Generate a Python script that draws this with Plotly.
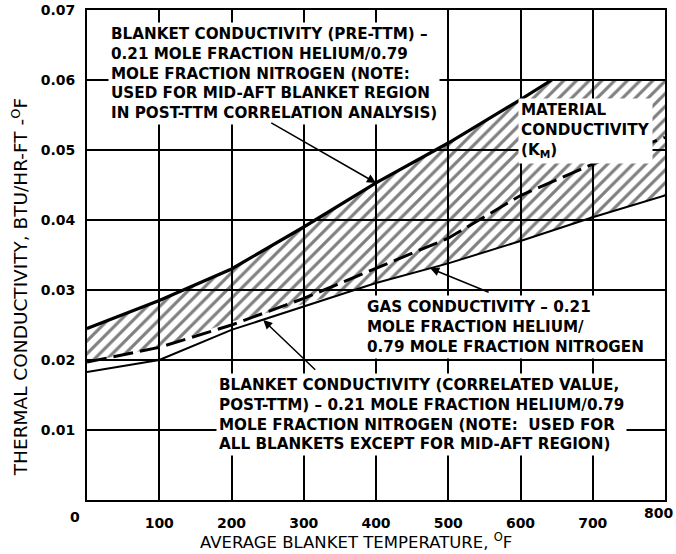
import plotly.graph_objects as go

# ---------------- data ----------------
temp_ticks = [100, 200, 300, 400, 500, 600, 700, 800]
k_ticks = [0.01, 0.02, 0.03, 0.04, 0.05, 0.06, 0.07]
k_tick_labels = ["0.01", "0.02", "0.03", "0.04", "0.05", "0.06", "0.07"]

# Blanket conductivity (pre-TTM)
pre_ttm_x = [0, 100, 200, 300, 400, 500, 600, 643]
pre_ttm_y = [0.0245, 0.0285, 0.0330, 0.0390, 0.0453, 0.0510, 0.0572, 0.0600]

# Material conductivity band (K_M) - upper and lower edges
km_top_x = [0, 100, 200, 300, 400, 500, 600, 643, 800]
km_top_y = [0.0245, 0.0285, 0.0330, 0.0390, 0.0453, 0.0510, 0.0572, 0.0600, 0.0600]
km_bot_x = [0, 100, 200, 300, 400, 500, 600, 700, 800]
km_bot_y = [0.0197, 0.0218, 0.0255, 0.0280, 0.0310, 0.0338, 0.0370, 0.0404, 0.0435]

# Blanket conductivity (correlated value, post-TTM)
corr_x = [0, 100, 200, 300, 400, 500, 600, 700, 800]
corr_y = [0.0197, 0.0218, 0.0250, 0.0288, 0.0331, 0.0374, 0.0435, 0.0480, 0.0518]

# Gas conductivity
gas_x = [0, 100, 200, 300, 400, 500, 600, 700, 800]
gas_y = [0.0183, 0.0200, 0.0243, 0.0277, 0.0310, 0.0338, 0.0370, 0.0404, 0.0435]

# ---------------- figure ----------------
FONT = "DejaVu Sans"
fig = go.Figure()

# hatched K_M band
fig.add_trace(go.Scatter(
    x=km_top_x + km_bot_x[::-1],
    y=km_top_y + km_bot_y[::-1],
    mode="none", fill="toself",
    fillcolor="rgba(0,0,0,0)",
    fillpattern=dict(shape="/", fgcolor="black", bgcolor="rgba(0,0,0,0)",
                     size=9, solidity=0.35),
    hoverinfo="skip", showlegend=False))

fig.add_trace(go.Scatter(x=gas_x, y=gas_y, mode="lines",
                         line=dict(color="black", width=2), showlegend=False))
fig.add_trace(go.Scatter(x=corr_x, y=corr_y, mode="lines",
                         line=dict(color="black", width=3, dash="20px,7px"),
                         showlegend=False))
fig.add_trace(go.Scatter(x=pre_ttm_x, y=pre_ttm_y, mode="lines",
                         line=dict(color="black", width=3.2), showlegend=False))

label_font = dict(family=FONT, size=15.2, color="black", weight="bold")
tick_font = dict(family=FONT, size=14, color="black", weight="bold")
ann = []

ann.append(dict(
    x=29, y=0.0683, xref="x", yref="y", xanchor="left", yanchor="top",
    text="BLANKET CONDUCTIVITY (PRE-TTM) –<br>0.21 MOLE FRACTION HELIUM/0.79<br>"
         "MOLE FRACTION NITROGEN (NOTE:<br>USED FOR MID-AFT BLANKET REGION<br>"
         "IN POST-TTM CORRELATION ANALYSIS)",
    showarrow=False, align="left", font=label_font, bgcolor="white", borderpad=2))
ann.append(dict(x=400, y=0.0453, ax=253, ay=0.0540, xref="x", yref="y",
                axref="x", ayref="y", text="", showarrow=True,
                arrowhead=2, arrowsize=1.2, arrowwidth=1.5, arrowcolor="black"))

ann.append(dict(
    x=596, y=0.0574, xref="x", yref="y", xanchor="left", yanchor="top",
    text="MATERIAL<br>CONDUCTIVITY<br>(K<sub>M</sub>)",
    showarrow=False, align="left", font=label_font, bgcolor="white", borderpad=2))

ann.append(dict(
    x=383, y=0.0293, xref="x", yref="y", xanchor="left", yanchor="top",
    text="GAS CONDUCTIVITY – 0.21<br>MOLE FRACTION HELIUM/<br>0.79 MOLE FRACTION NITROGEN",
    showarrow=False, align="left", font=label_font, bgcolor="white", borderpad=2))
ann.append(dict(x=475, y=0.0331, ax=558, ay=0.0296, xref="x", yref="y",
                axref="x", ayref="y", text="", showarrow=True,
                arrowhead=2, arrowsize=1.2, arrowwidth=1.5, arrowcolor="black"))

ann.append(dict(
    x=179, y=0.0182, xref="x", yref="y", xanchor="left", yanchor="top",
    text="BLANKET CONDUCTIVITY (CORRELATED VALUE,<br>POST-TTM) – 0.21 MOLE FRACTION HELIUM/0.79<br>"
         "MOLE FRACTION NITROGEN (NOTE:  USED FOR<br>ALL BLANKETS EXCEPT FOR MID-AFT REGION)",
    showarrow=False, align="left", font=label_font, bgcolor="white", borderpad=2))
ann.append(dict(x=244, y=0.0257, ax=318, ay=0.0184, xref="x", yref="y",
                axref="x", ayref="y", text="", showarrow=True,
                arrowhead=2, arrowsize=1.2, arrowwidth=1.5, arrowcolor="black"))

# origin label, last x tick label (kept inside the page), axis titles
ann.append(dict(x=-0.021, y=-0.035, xref="paper", yref="paper", text="0",
                showarrow=False, font=tick_font,
                xanchor="center", yanchor="middle"))
ann.append(dict(x=1, y=-0.027, xref="paper", yref="paper", text=str(temp_ticks[-1]),
                showarrow=False, font=tick_font, xshift=10,
                xanchor="right", yanchor="middle"))
ann.append(dict(x=0.465, y=-0.084, xref="paper", yref="paper",
                text="AVERAGE BLANKET TEMPERATURE, <sup>O</sup>F",
                showarrow=False, font=dict(family=FONT, size=16.5, color="black"),
                xanchor="center", yanchor="middle"))
ann.append(dict(x=-0.117, y=0.435, xref="paper", yref="paper",
                text="THERMAL CONDUCTIVITY, BTU/HR-FT -<sup>O</sup>F", textangle=-90,
                showarrow=False, font=dict(family=FONT, size=18.5, color="black"),
                xanchor="center", yanchor="middle"))

x_tick_text = [str(v) for v in temp_ticks[:-1]] + [""]

fig.update_layout(
    width=676, height=554,
    margin=dict(l=87, r=11, t=10, b=54),
    paper_bgcolor="white", plot_bgcolor="white",
    annotations=ann,
    font=dict(family=FONT, color="black"),
    xaxis=dict(range=[0, 800], tickvals=temp_ticks, ticktext=x_tick_text,
               showgrid=True, gridcolor="black", gridwidth=1.5,
               showline=True, linecolor="black", linewidth=2, mirror=True,
               ticks="", ticklabelstandoff=9, zeroline=False, automargin=False,
               ticklabeloverflow="allow", tickfont=tick_font),
    yaxis=dict(range=[0, 0.07], tickvals=k_ticks, ticktext=k_tick_labels,
               showgrid=True, gridcolor="black", gridwidth=1.5,
               showline=True, linecolor="black", linewidth=2, mirror=True,
               ticks="", ticklabelstandoff=7, zeroline=False, automargin=False,
               ticklabeloverflow="allow", tickfont=tick_font),
)

fig.write_html("out.html", config={"displayModeBar": False},
               post_script="document.body.style.margin='0';document.body.style.padding='0';")
